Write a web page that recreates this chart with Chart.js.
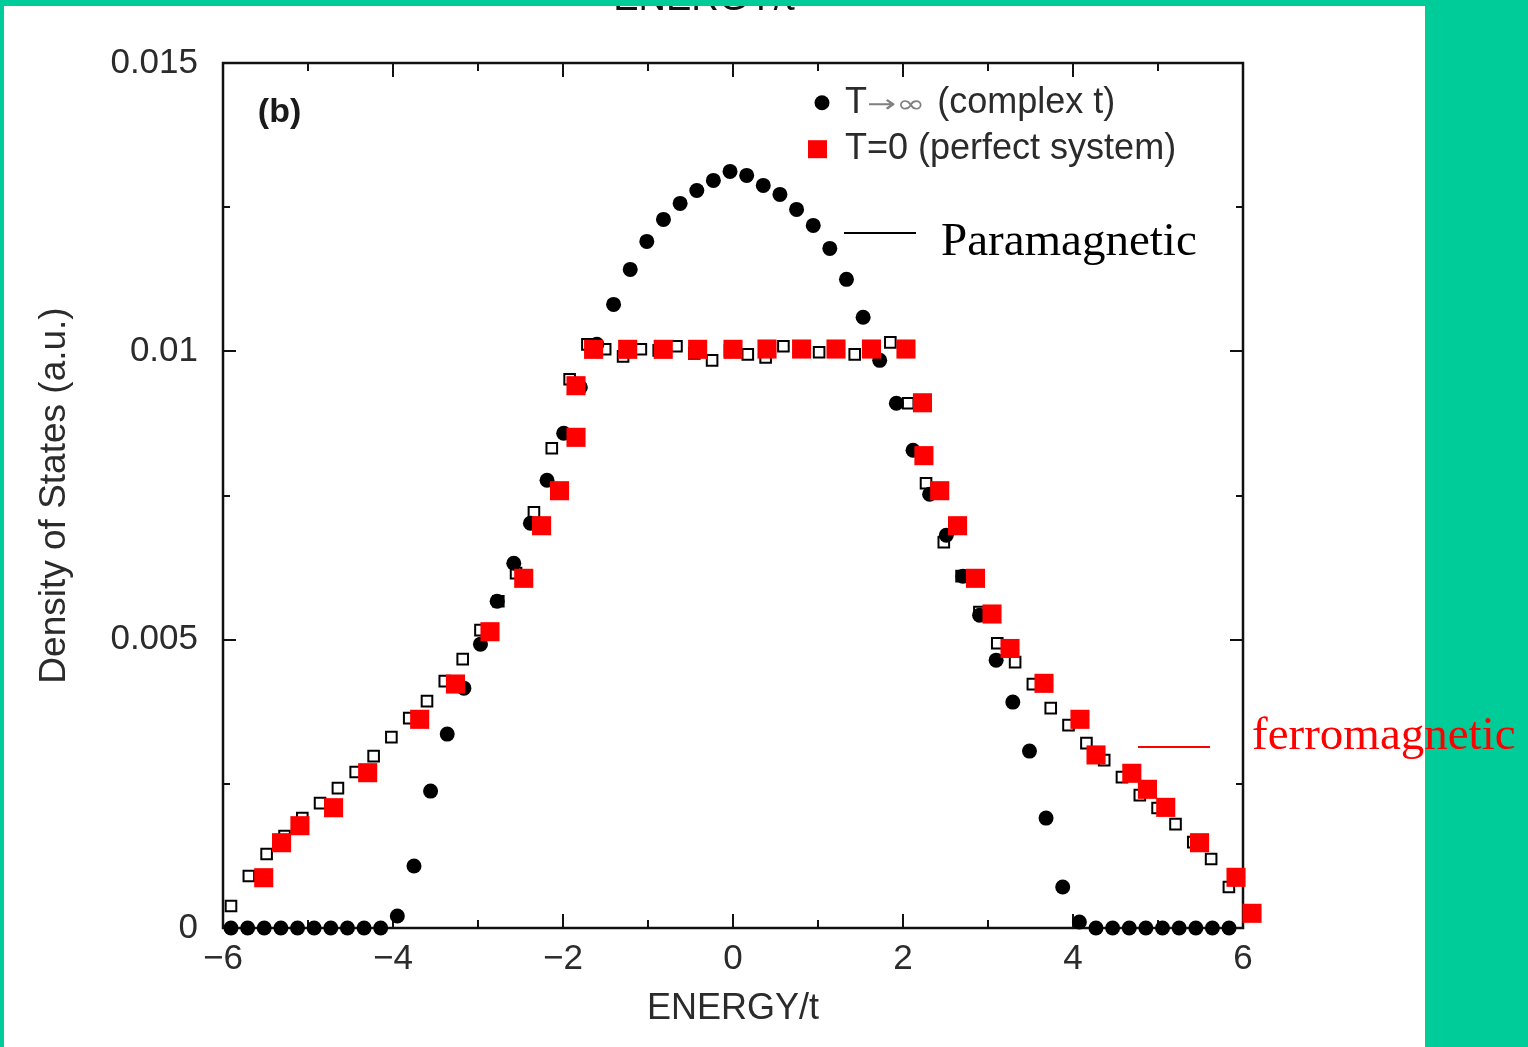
<!DOCTYPE html>
<html>
<head>
<meta charset="utf-8">
<script src="https://cdn.jsdelivr.net/npm/chart.js@4/dist/chart.umd.min.js"></script>
<style>
html,body{margin:0;padding:0;background:#00CC99;overflow:hidden;}
#wrap{position:absolute;left:0;top:0;width:1528px;height:1047px;}
</style>
</head>
<body>
<div id="wrap"><canvas id="c" width="1528" height="1047"></canvas></div>
<script>
// ---------- DATA ----------
// Black filled circles: T -> infinity (complex t)
const energyCircles = [-5.906,-5.710,-5.515,-5.319,-5.123,-4.928,-4.732,-4.536,-4.340,-4.145,
  -3.949,-3.753,-3.558,-3.362,-3.166,-2.971,-2.775,-2.579,-2.383,-2.188,
  -1.992,-1.796,-1.601,-1.405,-1.209,-1.014,-0.818,-0.622,-0.426,-0.231,
  -0.035,0.161,0.356,0.552,0.748,0.944,1.139,1.335,1.531,1.726,
  1.922,2.118,2.313,2.509,2.705,2.901,3.096,3.292,3.488,3.683,
  3.879,4.075,4.270,4.466,4.662,4.857,5.053,5.249,5.445,5.640,5.836];
const dosCircles = [0,0,0,0,0,0,0,0,0,0,
  0.000208,0.001075,0.002374,0.003362,0.004159,0.004922,0.005667,0.006326,0.007019,0.007764,
  0.008579,0.009376,0.010121,0.010814,0.011421,0.011906,0.012288,0.012565,0.012790,0.012964,
  0.013120,0.013051,0.012877,0.012721,0.012461,0.012184,0.011785,0.011248,0.010590,0.009844,
  0.009099,0.008284,0.007522,0.006811,0.006101,0.005425,0.004645,0.003917,0.003068,0.001906,
  0.000711,0.000104,0,0,0,0,0,0,0,0,0];

// Red filled squares: T = 0 (perfect system)
const energySquares = [-5.521,-5.311,-5.095,-4.699,-4.298,-3.686,-3.265,-2.859,-2.462,-2.252,
  -2.041,-1.847,-1.847,-1.640,-1.239,-0.821,-0.416,0.000,0.400,0.807,
  1.212,1.629,2.035,2.229,2.246,2.432,2.642,2.853,3.047,3.259,
  3.659,4.082,4.271,4.692,4.876,5.091,5.489,5.918,6.106];
const dosSquares = [0.000872,0.001479,0.001774,0.002086,0.002693,0.003619,0.004231,0.005138,0.006064,0.006976,
  0.007583,0.008509,0.009404,0.010035,0.010035,0.010035,0.010035,0.010035,0.010040,0.010040,
  0.010040,0.010040,0.010040,0.009108,0.008191,0.007583,0.006976,0.006064,0.005445,0.004847,
  0.004243,0.003619,0.003001,0.002683,0.002405,0.002092,0.001479,0.000879,0.000255];

// Open squares (no legend entry)
const energyOpen = [-5.906,-5.696,-5.487,-5.276,-5.067,-4.858,-4.648,-4.439,-4.228,-4.019,
  -3.809,-3.600,-3.391,-3.180,-2.971,-2.761,-2.552,-2.342,-2.132,-1.922,
  -1.713,-1.504,-1.293,-1.084,-0.874,-0.665,-0.455,-0.246,-0.035,0.174,
  0.384,0.593,0.802,1.013,1.222,1.432,1.641,1.851,2.061,2.271,
  2.480,2.689,2.899,3.109,3.319,3.528,3.738,3.947,4.158,4.367,
  4.576,4.786,4.995,5.206,5.415,5.625,5.834];
const dosOpen = [0.000381,0.000901,0.001282,0.001594,0.001906,0.002166,0.002426,0.002704,0.002981,0.003310,
  0.003640,0.003934,0.004281,0.004662,0.005165,0.005667,0.006153,0.007210,0.008319,0.009515,
  0.010121,0.010035,0.009913,0.010035,0.010017,0.010087,0.009965,0.009844,0.010017,0.009948,
  0.009896,0.010087,0.010017,0.009983,0.010035,0.009948,0.010017,0.010156,0.009099,0.007712,
  0.006690,0.006101,0.005477,0.004939,0.004610,0.004229,0.003813,0.003518,0.003206,0.002912,
  0.002617,0.002305,0.002080,0.001802,0.001490,0.001196,0.000711];

const xTickValues = [-6,-4,-2,0,2,4,6];
const xTickLabels = ['\u22126','\u22124','\u22122','0','2','4','6'];
const xMinorTicks = [-5,-3,-1,1,3,5];
const yTickValues = [0,0.005,0.01,0.015];
const yTickLabels = ['0','0.005','0.01','0.015'];
const yMinorTicks = [0.0025,0.0075,0.0125];
const xTitle = 'ENERGY/t';
const yTitle = 'Density of States (a.u.)';
const legendNames = ['T\u2192\u221e (complex t)','T=0 (perfect system)'];
const panelLabel = '(b)';
const annotParamagnetic = 'Paramagnetic';
const annotFerro = 'ferromagnetic';

// ---------- STYLE ----------
const TEAL = '#00CC99';
const TEXT = '#2b2b2b';
const SANS = "'Liberation Sans', Arial, sans-serif";
const SERIF = "'Liberation Serif', 'Times New Roman', serif";

function pts(xs, ys){ return xs.map((x,i)=>({x:x, y:ys[i]})); }

const pagePlugin = {
  id:'page',
  beforeDraw(chart){
    const ctx = chart.ctx;
    ctx.save();
    ctx.fillStyle = TEAL; ctx.fillRect(0,0,chart.width,chart.height);
    ctx.fillStyle = '#ffffff'; ctx.fillRect(4,6,1421,chart.height-6);
    ctx.restore();
  },
  beforeDatasetsDraw(chart){
    const {ctx, chartArea:a, scales:{x,y}} = chart;
    ctx.save();
    ctx.strokeStyle = '#111'; ctx.lineWidth = 2.5;
    ctx.strokeRect(a.left, a.top, a.right-a.left, a.bottom-a.top);
    ctx.lineWidth = 2;
    ctx.beginPath();
    const tickX = (v, L)=>{ const p = Math.round(x.getPixelForValue(v));
      ctx.moveTo(p, a.bottom); ctx.lineTo(p, a.bottom-L);
      ctx.moveTo(p, a.top); ctx.lineTo(p, a.top+L); };
    const tickY = (v, L)=>{ const p = Math.round(y.getPixelForValue(v));
      ctx.moveTo(a.left, p); ctx.lineTo(a.left+L, p);
      ctx.moveTo(a.right, p); ctx.lineTo(a.right-L, p); };
    xTickValues.forEach(v=>tickX(v,14));
    xMinorTicks.forEach(v=>tickX(v,8));
    yTickValues.forEach(v=>tickY(v,13));
    yMinorTicks.forEach(v=>tickY(v,7));
    ctx.stroke();
    ctx.restore();
  },
  afterDraw(chart){
    const {ctx, scales:{x,y}} = chart;
    ctx.save();
    // panel label
    ctx.fillStyle = '#1a1a1a';
    ctx.font = "bold 34px " + SANS;
    ctx.textBaseline = 'middle'; ctx.textAlign = 'left';
    ctx.fillText(panelLabel, x.getPixelForValue(-5.59), y.getPixelForValue(0.01414));

    // legend
    const lx = x.getPixelForValue(1.047);
    const tx = x.getPixelForValue(1.318);
    const r1 = y.getPixelForValue(0.01431);
    const r2 = y.getPixelForValue(0.013505);
    ctx.fillStyle = '#000';
    ctx.beginPath(); ctx.arc(lx, r1, 7.5, 0, Math.PI*2); ctx.fill();
    ctx.fillStyle = '#ff0000';
    ctx.fillRect(lx-14, r2-9, 19, 18);
    ctx.fillStyle = TEXT;
    ctx.font = "36px " + SANS;
    ctx.textBaseline = 'middle';
    // first entry drawn in pieces: "T", small arrow-infinity, rest
    const n1 = legendNames[0];
    const iParen = n1.indexOf(' (');
    const partT = n1.slice(0,1), partSym = n1.slice(1,iParen), partRest = n1.slice(iParen);
    let cx = tx;
    ctx.fillText(partT, cx, r1); cx += ctx.measureText(partT).width;
    ctx.save(); ctx.fillStyle = '#808080'; ctx.font = "24px 'DejaVu Sans', sans-serif";
    ctx.translate(cx, r1+3); ctx.scale(1.45, 1);
    ctx.fillText(partSym, 0, 0);
    cx += ctx.measureText(partSym).width * 1.45 + 2;
    ctx.restore();
    ctx.fillText(partRest, cx, r1);
    ctx.fillText(legendNames[1], tx, r2);

    // annotations
    ctx.lineWidth = 2;
    ctx.strokeStyle = '#000';
    ctx.beginPath();
    ctx.moveTo(x.getPixelForValue(1.306), y.getPixelForValue(0.01205));
    ctx.lineTo(x.getPixelForValue(2.153), y.getPixelForValue(0.01205));
    ctx.stroke();
    ctx.fillStyle = '#000';
    ctx.font = "47px " + SERIF;
    ctx.textBaseline = 'alphabetic';
    ctx.fillText(annotParamagnetic, x.getPixelForValue(2.447), y.getPixelForValue(0.01167));

    ctx.strokeStyle = '#ff0000';
    ctx.beginPath();
    ctx.moveTo(x.getPixelForValue(4.765), y.getPixelForValue(0.003139));
    ctx.lineTo(x.getPixelForValue(5.612), y.getPixelForValue(0.003139));
    ctx.stroke();
    ctx.fillStyle = '#ff0000';
    ctx.fillText(annotFerro, x.getPixelForValue(6.106), y.getPixelForValue(0.003104));

    // cut-off title at very top, then the teal band over it
    ctx.fillStyle = '#111';
    ctx.font = "38px " + SANS;
    ctx.textAlign = 'center';
    ctx.textBaseline = 'alphabetic';
    ctx.fillText(xTitle, 704, 10);
    ctx.fillStyle = TEAL;
    ctx.fillRect(0,0,chart.width,6);
    ctx.restore();
  }
};

new Chart(document.getElementById('c'), {
  type: 'scatter',
  data: {
    datasets: [
      { label: legendNames[1], data: pts(energySquares, dosSquares), pointStyle:'rect',
        pointRadius:13.5, pointHoverRadius:13.5, backgroundColor:'#ff0000', borderWidth:0, clip:false },
      { label: legendNames[0], data: pts(energyCircles, dosCircles), pointStyle:'circle',
        pointRadius:7.5, pointHoverRadius:7.5, backgroundColor:'#000000', borderWidth:0, clip:false },
      { label: 'open', data: pts(energyOpen, dosOpen), pointStyle:'rect',
        pointRadius:7.5, pointHoverRadius:7.5, backgroundColor:'#ffffff', borderColor:'#000000', borderWidth:2, clip:false }
    ]
  },
  options: {
    responsive:false,
    animation:false,
    devicePixelRatio:1,
    events:[],
    layout:{ padding:{ left:0, top:63, right:285, bottom:0 } },
    plugins:{ legend:{display:false}, tooltip:{enabled:false} },
    scales:{
      x:{
        type:'linear', min:-6, max:6,
        afterFit(s){ s.height = 119; },
        afterBuildTicks(s){ s.ticks = xTickValues.map(v=>({value:v})); },
        grid:{display:false, drawTicks:false},
        border:{display:false},
        ticks:{ padding:10, font:{size:35, family:SANS}, color:TEXT, maxRotation:0, autoSkip:false,
          callback:(v)=>xTickLabels[xTickValues.indexOf(v)] },
        title:{ display:true, text:xTitle, font:{size:36, family:SANS}, color:TEXT, padding:{top:0,bottom:16} }
      },
      y:{
        type:'linear', min:0, max:0.015,
        afterFit(s){ s.width = 223; },
        afterBuildTicks(s){ s.ticks = yTickValues.map(v=>({value:v})); },
        grid:{display:false, drawTicks:false},
        border:{display:false},
        ticks:{ padding:25, font:{size:35, family:SANS}, color:TEXT, autoSkip:false,
          callback:(v,i)=>yTickLabels[i] },
        title:{ display:true, text:yTitle, font:{size:37, family:SANS}, color:TEXT, padding:{top:33,bottom:0} }
      }
    }
  },
  plugins:[pagePlugin]
});
</script>
</body>
</html>
